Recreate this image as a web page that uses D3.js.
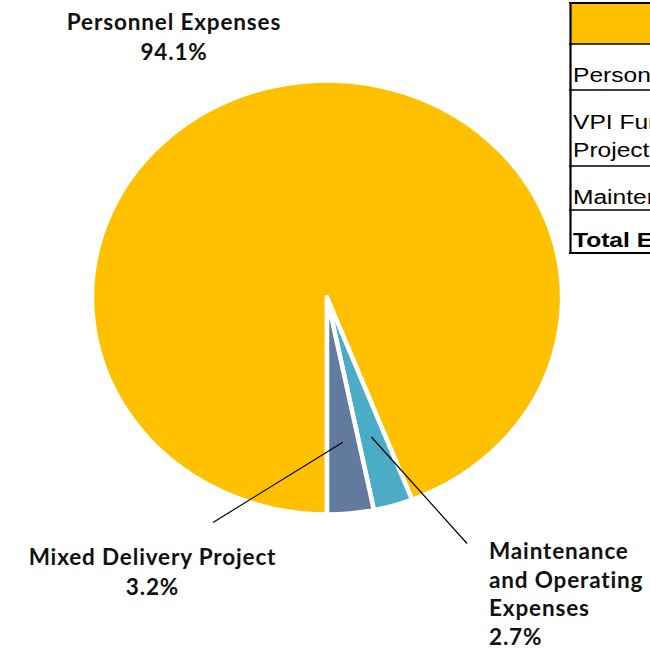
<!DOCTYPE html>
<html>
<head>
<meta charset="utf-8">
<script src="https://cdn.jsdelivr.net/npm/d3@7"></script>
<style>
  html, body { margin: 0; padding: 0; background: #fff; }
  svg { display: block; }
</style>
</head>
<body>
<svg id="chart" width="650" height="648"></svg>
<script>
// ---- data ----
const categories = ["Personnel Expenses", "Maintenance and Operating Expenses", "Mixed Delivery Project"];
const shares = [94.1, 2.7, 3.2];
const labelLines = [
  ["Personnel Expenses", "94.1%"],
  ["Maintenance", "and Operating", "Expenses", "2.7%"],
  ["Mixed Delivery Project", "3.2%"]
];
const sliceColors = ["#FFC000", "#4BACC6", "#627A9E"];
const tableRows = [
  { lines: [""], bold: false },
  { lines: ["Personnel Expenses"], bold: false },
  { lines: ["VPI Funded Mixed Delivery", "Project"], bold: false },
  { lines: ["Maintenance and Operating Expenses"], bold: false },
  { lines: ["Total Expenses"], bold: true }
];

// ---- layout ----
const svg = d3.select("#chart");
const cx = 327, cy = 297.5, rx = 235, ry = 217;

const pie = d3.pie().sort(null).value(d => d).startAngle(Math.PI).endAngle(3 * Math.PI);
const arcs = pie(shares);
const arc = d3.arc().innerRadius(0).outerRadius(rx);

const g = svg.append("g").attr("transform", `translate(${cx},${cy}) scale(1,${ry / rx})`);
g.selectAll("path.slice")
  .data(arcs)
  .join("path")
  .attr("class", "slice")
  .attr("d", arc)
  .attr("fill", (d, i) => sliceColors[i])
  .attr("stroke", "#fff")
  .attr("stroke-width", 4.5)
  .attr("stroke-linejoin", "round")
  .attr("vector-effect", "non-scaling-stroke");

// leader lines
const inner = d3.arc().innerRadius(rx * 0.67).outerRadius(rx * 0.67);
const leaderEnds = { 1: [467, 543.5], 2: [213, 522.5] };
[1, 2].forEach(i => {
  const [px, py] = inner.centroid(arcs[i]);
  svg.append("line")
    .attr("x1", leaderEnds[i][0]).attr("y1", leaderEnds[i][1])
    .attr("x2", cx + px).attr("y2", cy + py * ry / rx)
    .attr("stroke", "#000").attr("stroke-width", 1.2);
});

// labels
const labelFont = "Lato, 'Open Sans', sans-serif";
const labelPos = [
  { x: 174, y: 30, lh: 30, anchor: "middle" },
  { x: 489, y: 559, lh: 28.5, anchor: "start" },
  { x: 152.5, y: 565, lh: 30, anchor: "middle" }
];
labelLines.forEach((lines, i) => {
  const p = labelPos[i];
  const t = svg.append("text")
    .attr("x", p.x).attr("y", p.y)
    .attr("text-anchor", p.anchor)
    .attr("font-family", labelFont)
    .attr("font-weight", 700)
    .attr("font-size", 22.5)
    .attr("letter-spacing", 0.85)
    .attr("fill", "#111");
  lines.forEach((s, k) => {
    t.append("tspan").attr("x", p.x).attr("y", p.y + k * p.lh).text(s);
  });
});

// table (clipped at right edge)
const tbl = svg.append("g");
const rowTops = [3, 44, 90, 166, 210, 253];
const lineBaselines = [[0], [82], [129, 157], [204], [247]];
tbl.append("rect")
  .attr("x", 570).attr("y", rowTops[0])
  .attr("width", 200).attr("height", rowTops[1] - rowTops[0])
  .attr("fill", "#FFC000");
tableRows.forEach((r, i) => {
  const t = tbl.append("text")
    .attr("transform", "translate(573,0) scale(1.17,1)")
    .attr("font-family", "'Liberation Sans', Arial, sans-serif")
    .attr("font-size", 21)
    .attr("font-weight", r.bold ? 700 : 400)
    .attr("fill", "#000");
  r.lines.forEach((s, k) => {
    t.append("tspan")
      .attr("x", 0)
      .attr("y", lineBaselines[i][k])
      .text(s);
  });
});
// grid lines
rowTops.forEach((y, i) => {
  tbl.append("line")
    .attr("x1", 569).attr("x2", 660)
    .attr("y1", y).attr("y2", y)
    .attr("stroke", "#000")
    .attr("stroke-width", (i === 0 || i === rowTops.length - 1) ? 2 : 1.5);
});
tbl.append("line")
  .attr("x1", 570.5).attr("x2", 570.5)
  .attr("y1", rowTops[0] - 1).attr("y2", rowTops[rowTops.length - 1] + 1)
  .attr("stroke", "#000").attr("stroke-width", 2.2);
</script>
</body>
</html>
